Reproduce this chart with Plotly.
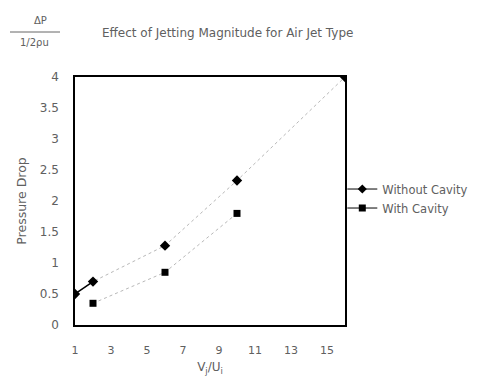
import plotly.graph_objects as go

# Data
x_without = [1, 2, 6, 10, 16]
y_without = [0.5, 0.7, 1.28, 2.33, 4.0]
x_with = [2, 6, 10]
y_with = [0.35, 0.85, 1.8]
x_ticks = [1, 3, 5, 7, 9, 11, 13, 15]
y_ticks = [0, 0.5, 1, 1.5, 2, 2.5, 3, 3.5, 4]
y_ticktext = ["0", "0.5", "1", "1.5", "2", "2.5", "3", "3.5", "4"]

FONT = "DejaVu Sans"
TXT = "#606060"

fig = go.Figure()

# data traces (faint dotted connecting lines as in the scanned chart)
fig.add_trace(go.Scatter(
    x=x_without, y=y_without, mode="lines+markers", name="Without Cavity",
    line=dict(color="#b8b8b8", width=1, dash="dot"),
    marker=dict(symbol="diamond", size=8, color="black"),
    showlegend=False))
fig.add_trace(go.Scatter(
    x=x_with, y=y_with, mode="lines+markers", name="With Cavity",
    line=dict(color="#b8b8b8", width=1, dash="dot"),
    marker=dict(symbol="square", size=7, color="black"),
    showlegend=False))
# solid first segment visible in reference
fig.add_trace(go.Scatter(
    x=x_without[:2], y=y_without[:2], mode="lines",
    line=dict(color="black", width=1.5), showlegend=False, hoverinfo="skip"))

# legend entries
fig.add_trace(go.Scatter(
    x=[None], y=[None], mode="lines+markers", name="Without Cavity",
    line=dict(color="black", width=1),
    marker=dict(symbol="diamond", size=7, color="black")))
fig.add_trace(go.Scatter(
    x=[None], y=[None], mode="lines+markers", name="With Cavity",
    line=dict(color="black", width=1),
    marker=dict(symbol="square", size=7, color="black")))

fig.update_layout(
    width=497, height=376,
    margin=dict(l=75, r=152, t=77, b=51),
    paper_bgcolor="white", plot_bgcolor="white",
    font=dict(family=FONT, size=11, color=TXT),
    showlegend=True,
    legend=dict(x=0.99, xanchor="left", y=0.51, yanchor="middle",
                font=dict(family=FONT, size=11.5, color=TXT),
                bgcolor="rgba(0,0,0,0)", itemwidth=30, tracegroupgap=2),
    xaxis=dict(range=[1, 16], tickmode="array", tickvals=x_ticks,
               ticktext=[str(v) for v in x_ticks],
               showgrid=False, zeroline=False, showline=True,
               linecolor="black", linewidth=1.5, mirror=True,
               ticks="", ticklabelstandoff=14, automargin=False,
               tickfont=dict(size=11, color=TXT),
               title=dict(text="V<sub>j</sub>/U<sub>i</sub>", standoff=10,
                          font=dict(size=12, color=TXT))),
    yaxis=dict(range=[0, 4], tickmode="array", tickvals=y_ticks,
               ticktext=y_ticktext,
               showgrid=False, zeroline=False, showline=True,
               linecolor="black", linewidth=1.5, mirror=True,
               ticks="", ticklabelstandoff=12, automargin=False,
               tickfont=dict(size=12, color=TXT),
               title=dict(text="Pressure Drop", standoff=10,
                          font=dict(size=12.5, color=TXT))),
    annotations=[
        dict(text="Effect of Jetting Magnitude for Air Jet Type",
             xref="paper", yref="paper", x=(100-75)/270, y=(325-33)/248,
             xanchor="left", yanchor="middle", showarrow=False,
             font=dict(family=FONT, size=12, color=TXT)),
        dict(text="ΔP", xref="paper", yref="paper",
             x=(40-75)/270, y=(325-21)/248, xanchor="center", yanchor="middle",
             showarrow=False, font=dict(family=FONT, size=10, color=TXT)),
        dict(text="1/2ρu", xref="paper", yref="paper",
             x=(34-75)/270, y=(325-43)/248, xanchor="center", yanchor="middle",
             showarrow=False, font=dict(family=FONT, size=10, color=TXT)),
    ],
    shapes=[dict(type="line", xref="paper", yref="paper",
                 x0=(10-75)/270, x1=(60-75)/270,
                 y0=(325-32)/248, y1=(325-32)/248,
                 line=dict(color="#666666", width=1))],
)

fig.write_html("out.html")
